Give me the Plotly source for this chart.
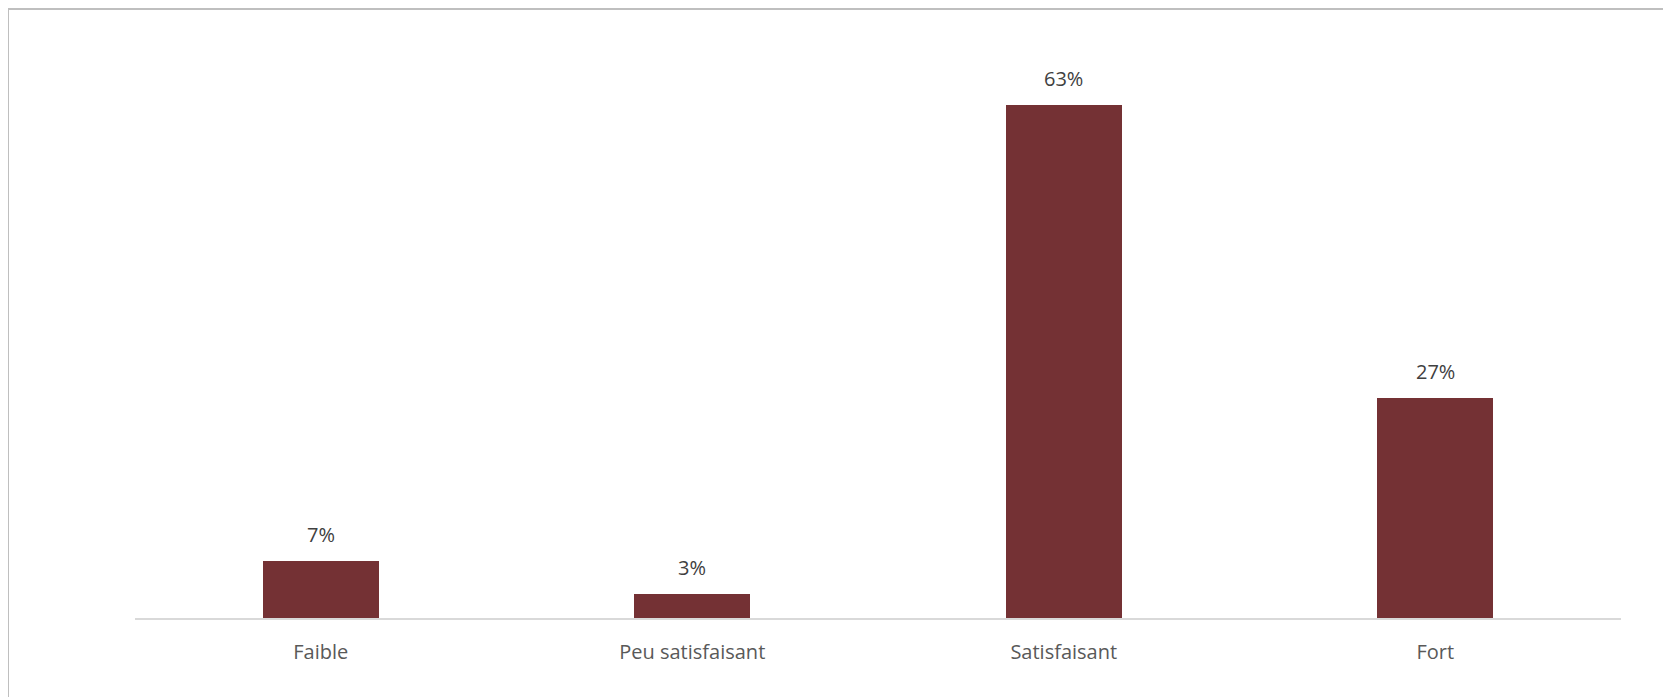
import plotly.graph_objects as go

categories = ["Faible", "Peu satisfaisant", "Satisfaisant", "Fort"]
values = [7, 3, 63, 27]
value_labels = ["7%", "3%", "63%", "27%"]

# page has an 8px body margin; size the figure so it fits the 1671x697 window
OFF = 8
W, H = 1671 - OFF, 697 - OFF
ML, MR, MT, MB = 135 - OFF, 50, 48 - OFF, 79
pw, ph = W - ML - MR, H - MT - MB

FONT = "Open Sans"

fig = go.Figure()
fig.add_trace(go.Bar(
    x=categories, y=values,
    marker=dict(color="#743134", line=dict(width=0)),
    width=0.3125,
    hoverinfo="skip",
))

for c, v, t in zip(categories, values, value_labels):
    fig.add_annotation(x=c, y=v, text=t, showarrow=False,
                       yanchor="bottom", yshift=11,
                       font=dict(family=FONT, size=20, color="#404040"))

def px(x):
    return (x - OFF - ML) / pw

def py(y):
    return (H - MB - (y - OFF)) / ph

border = "#bfbfbf"
fig.add_shape(type="line", xref="paper", yref="paper",
              x0=px(8), x1=px(1680), y0=py(9), y1=py(9),
              line=dict(color=border, width=2))
fig.add_shape(type="line", xref="paper", yref="paper",
              x0=px(8), x1=px(8), y0=py(9), y1=py(705),
              line=dict(color=border, width=2))

fig.update_layout(
    width=W, height=H,
    margin=dict(l=ML, r=MR, t=MT, b=MB, pad=0),
    plot_bgcolor="white", paper_bgcolor="white",
    showlegend=False,
    bargap=0,
    xaxis=dict(showgrid=False, showline=True, linecolor="#d9d9d9", linewidth=1.5,
               ticks="", ticklabelstandoff=15,
               tickfont=dict(family=FONT, size=20, color="#595959")),
    yaxis=dict(range=[0, 70], visible=False, showgrid=False, zeroline=False),
)

fig.write_html("out.html")
